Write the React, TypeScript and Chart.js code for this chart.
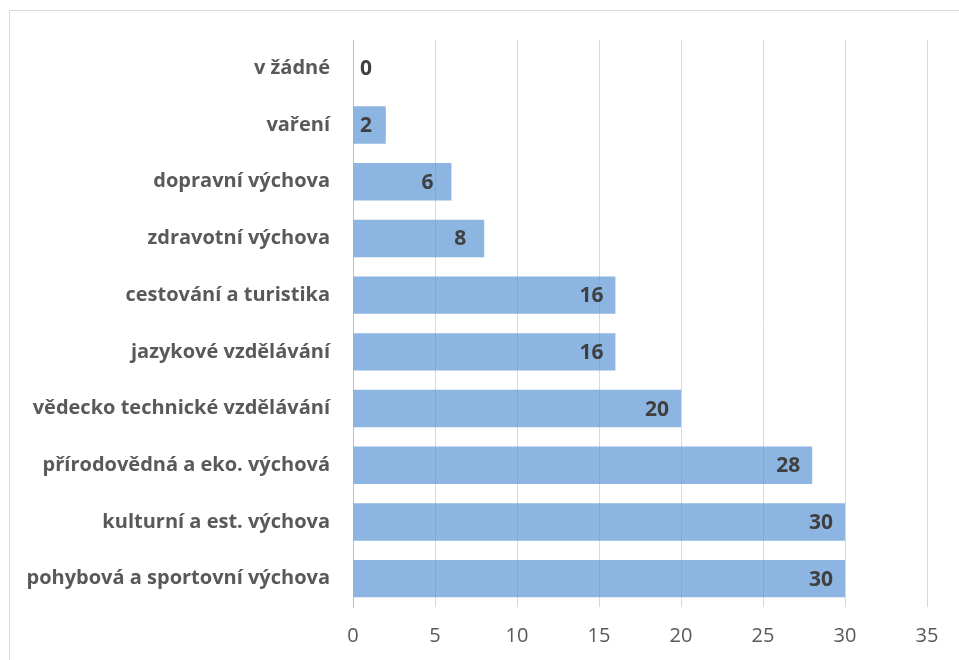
import React, { useEffect, useRef } from "react";
import { Chart, registerables } from "chart.js";

Chart.register(...registerables);

const categories = [
  "v žádné",
  "vaření",
  "dopravní výchova",
  "zdravotní výchova",
  "cestování a turistika",
  "jazykové vzdělávání",
  "vědecko technické vzdělávání",
  "přírodovědná a eko. výchová",
  "kulturní a est. výchova",
  "pohybová a sportovní výchova",
];
const values = [0, 2, 6, 8, 16, 16, 20, 28, 30, 30];
const axisMax = 35;
const axisStep = 5;

const FONT = "'Open Sans', 'Noto Sans', sans-serif";

const framePlugin = {
  id: "frame",
  beforeDraw(chart: any) {
    const { ctx, width, height } = chart;
    ctx.save();
    ctx.fillStyle = "#ffffff";
    ctx.fillRect(0, 0, width, height);
    ctx.strokeStyle = "#d9d9d9";
    ctx.lineWidth = 1;
    ctx.beginPath();
    ctx.moveTo(9.5, height);
    ctx.lineTo(9.5, 10.5);
    ctx.lineTo(width, 10.5);
    ctx.stroke();
    ctx.restore();
  },
};

const labelPlugin = {
  id: "barLabels",
  afterDatasetsDraw(chart: any) {
    const { ctx } = chart;
    const meta = chart.getDatasetMeta(0);
    const base = chart.scales.x.getPixelForValue(0);
    ctx.save();
    ctx.font = `bold 21px ${FONT}`;
    ctx.fillStyle = "#404040";
    ctx.textAlign = "center";
    ctx.textBaseline = "middle";
    meta.data.forEach((bar: any, i: number) => {
      const x = Math.max(bar.x - 24, base + 13);
      ctx.fillText(String(values[i]), x, bar.y + 1);
    });
    ctx.restore();
  },
};

export default function App() {
  const ref = useRef<HTMLCanvasElement>(null);
  useEffect(() => {
    if (!ref.current) return;
    const chart = new Chart(ref.current, {
      type: "bar",
      data: {
        labels: categories,
        datasets: [
          {
            data: values,
            backgroundColor: "rgba(92,150,214,0.7)",
            borderWidth: 0,
            categoryPercentage: 1,
            barPercentage: 0.66,
          },
        ],
      },
      options: {
        indexAxis: "y",
        animation: false,
        responsive: false,
        maintainAspectRatio: false,
        layout: { padding: { top: 40, right: 32, left: 0, bottom: 0 } },
        plugins: {
          legend: { display: false },
          tooltip: { enabled: false },
        },
        scales: {
          x: {
            min: 0,
            max: axisMax,
            ticks: {
              stepSize: axisStep,
              color: "#595959",
              font: { family: FONT, size: 20 },
              padding: 17,
            },
            grid: { color: "#d9d9d9", drawTicks: false },
            border: { display: false },
            afterFit(scale: any) {
              scale.height = 53;
            },
          },
          y: {
            ticks: {
              color: "#595959",
              font: { family: FONT, size: 20, weight: "bold" },
              padding: 23,
            },
            grid: { display: false, drawTicks: false },
            border: { display: true, color: "#bfbfbf", width: 1 },
            afterFit(scale: any) {
              scale.width = 353;
            },
          },
        },
      },
      plugins: [framePlugin, labelPlugin],
    });
    return () => chart.destroy();
  }, []);
  return (
    <div style={{ position: "fixed", left: 0, top: 0, width: 959, height: 660 }}>
      <canvas ref={ref} width={959} height={660} style={{ display: "block" }} />
    </div>
  );
}
